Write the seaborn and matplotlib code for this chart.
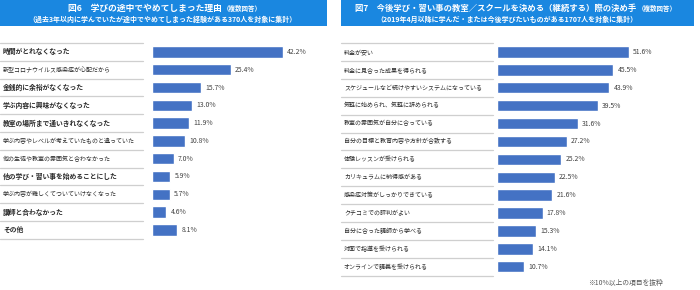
import matplotlib
matplotlib.use("Agg")
import matplotlib.pyplot as plt
import matplotlib.transforms as mtransforms
from matplotlib.patches import Rectangle
import seaborn as sns
import pandas as pd

sns.set_theme(style="white")
plt.rcParams['font.family'] = ['Noto Sans CJK JP', 'DejaVu Sans']

# ---- data ----
left_labels = [
    "時間がとれなくなった",
    "新型コロナウイルス感染症が心配だから",
    "金銭的に余裕がなくなった",
    "学ぶ内容に興味がなくなった",
    "教室の場所まで通いきれなくなった",
    "学ぶ内容やレベルが考えていたものと違っていた",
    "他の生徒や教室の雰囲気と合わなかった",
    "他の学び・習い事を始めることにした",
    "学ぶ内容が難しくてついていけなくなった",
    "講師と合わなかった",
    "その他",
]
left_values = [42.2, 25.4, 15.7, 13.0, 11.9, 10.8, 7.0, 5.9, 5.7, 4.6, 8.1]

right_labels = [
    "料金が安い",
    "料金に見合った成果を得られる",
    "スケジュールなど続けやすいシステムになっている",
    "気軽に始められ、気軽に辞められる",
    "教室の雰囲気が自分に合っている",
    "自分の目標と教育内容や方針が合致する",
    "体験レッスンが受けられる",
    "カリキュラムに納得感がある",
    "感染症対策がしっかりできている",
    "クチコミでの評判がよい",
    "自分に合った講師から学べる",
    "対面で指導を受けられる",
    "オンラインで講義を受けられる",
]
right_values = [51.6, 45.5, 43.9, 39.5, 31.6, 27.2, 25.2, 22.5, 21.6, 17.8, 15.3, 14.1, 10.7]

left_title = "図6　学びの途中でやめてしまった理由"
left_subtitle = "（過去3年以内に学んでいたが途中でやめてしまった経験がある370人を対象に集計）"
right_title = "図7　今後学び・習い事の教室／スクールを決める（継続する）際の決め手"
right_subtitle = "（2019年4月以降に学んだ・または今後学びたいものがある1707人を対象に集計）"
multi = "（複数回答）"
footnote = "※10%以上の項目を抜粋"

# style: which left labels are in the larger font
left_big = [True, False, True, True, True, False, False, True, False, True, True]

# ---- layout ----
W, H = 700, 290
fig = plt.figure(figsize=(7, 2.9), dpi=100)
fig.patch.set_facecolor("white")

BAR = "#4472C4"
BAND = "#1a87e0"
LINE = "#cfcfcf"
TXT = "#2b2b2b"

def fx(px):
    return px / W

def fy(py):
    return 1 - py / H

def panel(labels, values, bar_x0, bar_x1, top, pitch, xmax, label_x0, line_x1, sizes):
    n = len(labels)
    bottom = top + n * pitch
    ax = fig.add_axes([fx(bar_x0), fy(bottom), fx(bar_x1 - bar_x0), (bottom - top) / H])
    df = pd.DataFrame({"label": labels, "value": values})
    sns.barplot(data=df, x="value", y="label", orient="h", color=BAR,
                width=0.64, saturation=1, ax=ax)
    ax.set_xlim(0, xmax)
    ax.set_ylim(n - 0.5, -0.5)
    ax.axis("off")
    tr = mtransforms.blended_transform_factory(fig.transFigure, ax.transData)
    for i, (lab, v) in enumerate(zip(labels, values)):
        ax.text(fx(label_x0), i, lab, transform=tr, ha="left", va="center",
                fontsize=sizes[i][0], fontweight=sizes[i][1], color=TXT, clip_on=False)
        ax.annotate(f"{v:.1f}%", xy=(v, i), xytext=(3, 0), textcoords="offset points",
                    ha="left", va="center", fontsize=4.9, color="#404040",
                    annotation_clip=False)
    for k in range(n + 1):
        ax.plot([fx(label_x0 - 3), fx(line_x1)], [k - 0.5, k - 0.5], transform=tr,
                color=LINE, lw=0.9, clip_on=False)
    return ax

lsizes = [(4.9, "bold") if b else (4.3, "normal") for b in left_big]
rsizes = [(4.3, "normal")] * len(right_labels)

panel(left_labels, left_values, 152, 326, 43, 17.8, 56.1, 3, 143, lsizes)
panel(right_labels, right_values, 497, 694, 43, 17.9, 77.0, 344, 493, rsizes)

# header bands
fig.patches.append(Rectangle((fx(0), fy(26)), fx(327), 26 / H, transform=fig.transFigure,
                             facecolor=BAND, edgecolor="none", zorder=0))
fig.patches.append(Rectangle((fx(341), fy(26)), fx(353), 26 / H, transform=fig.transFigure,
                             facecolor=BAND, edgecolor="none", zorder=0))

# titles
renderer = fig.canvas.get_renderer()

def title_pair(x0, text, size):
    t = fig.text(fx(x0), fy(8), text, ha="left", va="center", fontsize=size,
                 fontweight="bold", color="white")
    bb = t.get_window_extent(renderer=renderer)
    fig.text(bb.x1 / W + fx(1), fy(8.5), multi, ha="left", va="center", fontsize=4.7,
             fontweight="bold", color="white")

title_pair(68, left_title, 6.3)
title_pair(355, right_title, 6.0)

fig.text(fx(163), fy(19), left_subtitle, ha="center", va="center", fontsize=5.0,
         fontweight="bold", color="white")
fig.text(fx(507), fy(19), right_subtitle, ha="center", va="center", fontsize=5.0,
         fontweight="bold", color="white")

fig.text(fx(663), fy(283), footnote, ha="right", va="center", fontsize=4.9, color="#555555")

fig.savefig("out.png", dpi=100, facecolor="white")
